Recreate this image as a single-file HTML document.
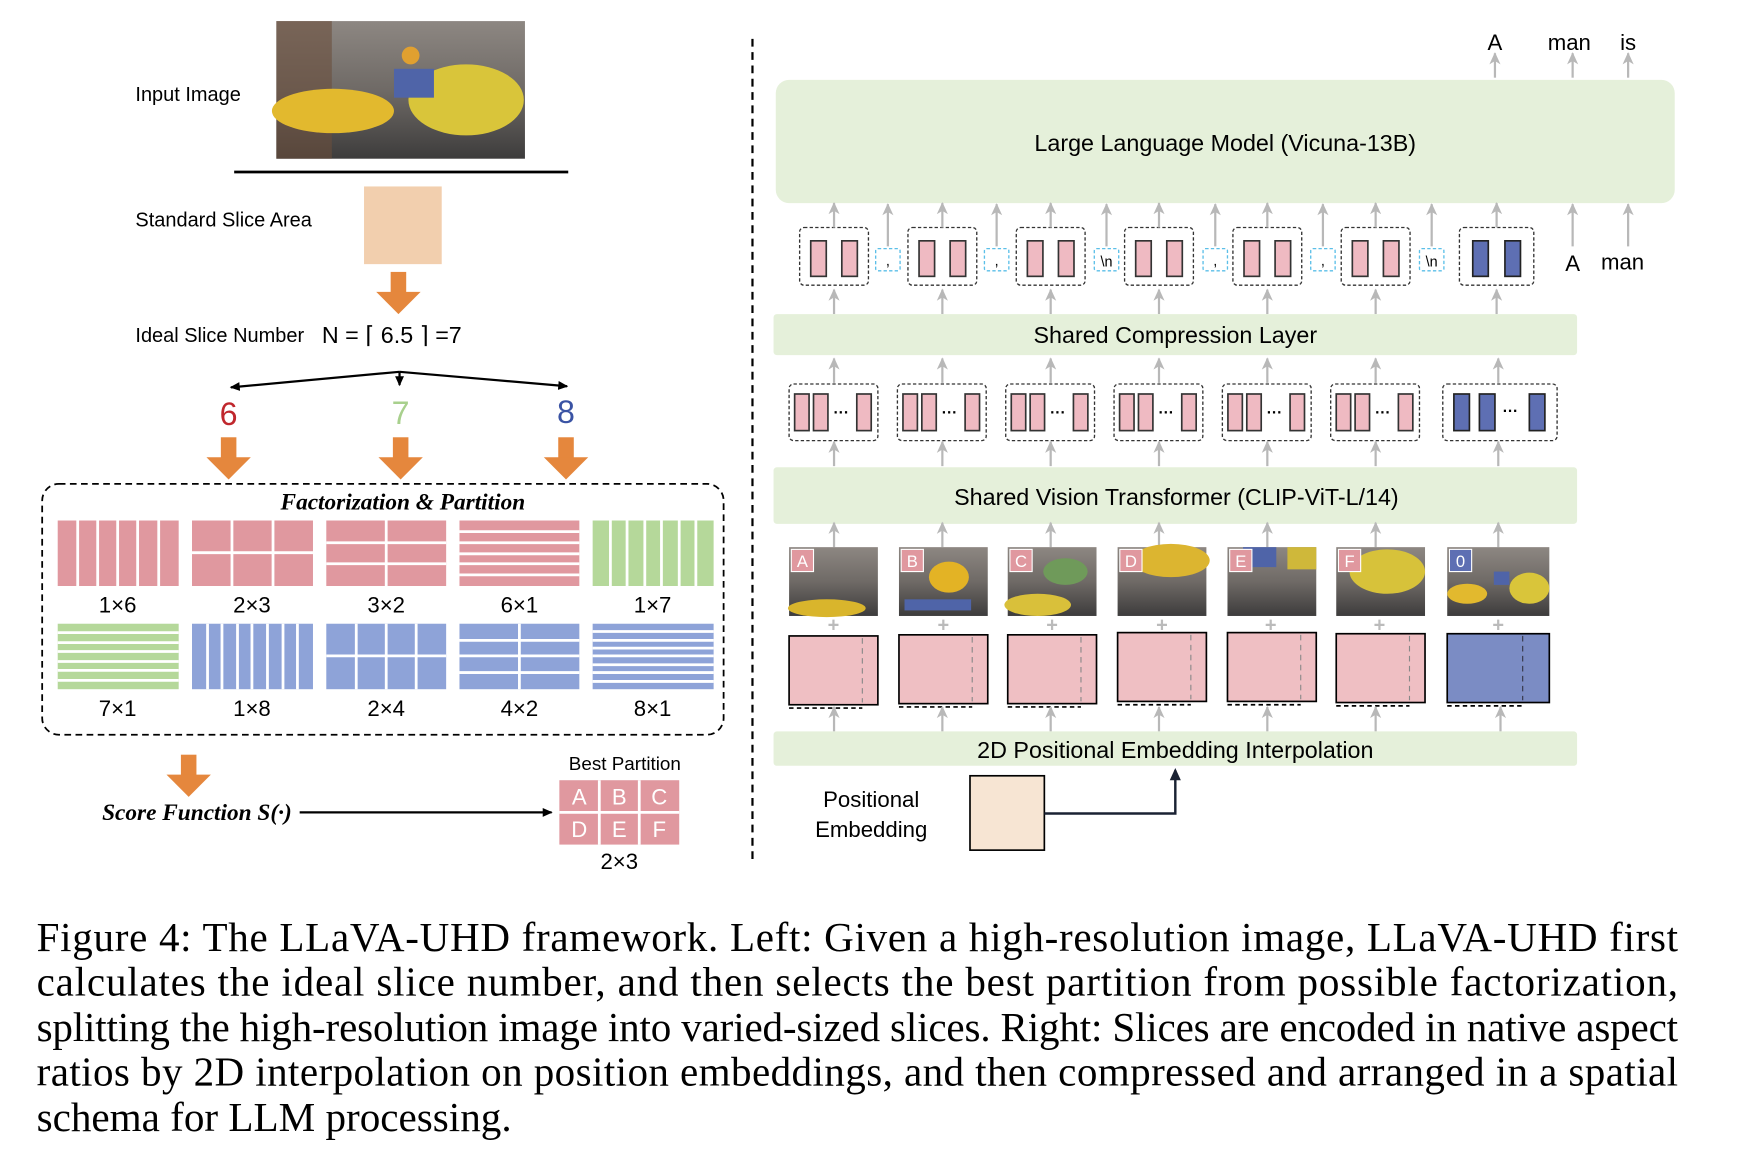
<!DOCTYPE html>
<html><head><meta charset="utf-8"><style>
html,body{margin:0;padding:0;background:#fff;}
svg{display:block}
.s{font-family:"Liberation Sans",sans-serif;}
.r{font-family:"Liberation Serif",serif;}
</style></head><body>
<svg width="1738" height="1162" viewBox="0 0 1566 1047" preserveAspectRatio="none" xmlns="http://www.w3.org/2000/svg">
<defs>
<marker id="ab" markerWidth="10" markerHeight="10" refX="8" refY="5" orient="auto" markerUnits="userSpaceOnUse"><path d="M0,1 L9,5 L0,9 Z" fill="#000"/></marker>
<marker id="ag" markerWidth="12" markerHeight="12" refX="10" refY="6" orient="auto" markerUnits="userSpaceOnUse"><path d="M0,1 L11,6 L0,11 L3,6 Z" fill="#b8b8b8"/></marker>
<linearGradient id="ph" x1="0" y1="0" x2="0" y2="1"><stop offset="0" stop-color="#8d8782"/><stop offset="0.5" stop-color="#6f6a66"/><stop offset="1" stop-color="#3d3c3c"/></linearGradient>
<g id="oa"><rect x="-7" y="0" width="14" height="20" fill="#e5873d"/><path d="M-20,18 L20,18 L0,38 Z" fill="#e5873d"/></g>
<g id="t1"><rect x="0" y="0" width="62" height="52" rx="4" fill="none" stroke="#333" stroke-dasharray="3,2" stroke-width="1.2"/><rect x="10" y="12" width="14" height="32" fill="#efbac2" stroke="#333" stroke-width="1.5"/><rect x="38" y="12" width="14" height="32" fill="#efbac2" stroke="#333" stroke-width="1.5"/></g>
<g id="t2"><rect x="0" y="0" width="80" height="51" rx="4" fill="none" stroke="#333" stroke-dasharray="3,2" stroke-width="1.2"/><rect x="5" y="9" width="13" height="33" fill="#efbac2" stroke="#333" stroke-width="1.5"/><rect x="22" y="9" width="13" height="33" fill="#efbac2" stroke="#333" stroke-width="1.5"/><text x="47" y="30" font-size="14" font-weight="bold" class="s" text-anchor="middle">···</text><rect x="61" y="9" width="13" height="33" fill="#efbac2" stroke="#333" stroke-width="1.5"/></g>
<g id="sep"><rect x="0" y="0" width="22" height="20" rx="2" fill="none" stroke="#5bbfe8" stroke-dasharray="3,2" stroke-width="1.2"/></g>
<g id="up"><line x1="0" y1="0" x2="0" y2="-22" stroke="#b8b8b8" stroke-width="2" marker-end="url(#ag)"/></g>
</defs>

<!-- LEFT -->
<text x="122" y="91" font-size="18" class="s">Input Image</text>
<rect x="249" y="19" width="224" height="124" fill="url(#ph)"/>
<rect x="249" y="19" width="50" height="124" fill="#6a4e3c" opacity="0.6"/>
<ellipse cx="300" cy="100" rx="55" ry="20" fill="#e2b92e"/>
<ellipse cx="420" cy="90" rx="52" ry="32" fill="#d9c53a"/>
<rect x="355" y="62" width="36" height="26" fill="#4f64a8"/>
<circle cx="370" cy="50" r="8" fill="#e0a030"/>
<line x1="211" y1="155" x2="512" y2="155" stroke="#000" stroke-width="2.5"/>
<text x="122" y="204" font-size="18" class="s">Standard Slice Area</text>
<rect x="328" y="168" width="70" height="70" fill="#f2cfae"/>
<use href="#oa" x="359" y="245"/>
<text x="122" y="308" font-size="18" class="s">Ideal Slice Number</text>
<text x="290" y="309" font-size="21" class="s">N = ⌈ 6.5 ⌉ =7</text>
<line x1="360" y1="335" x2="208" y2="349" stroke="#000" stroke-width="2" marker-end="url(#ab)"/>
<line x1="360" y1="335" x2="360" y2="347" stroke="#000" stroke-width="2" marker-end="url(#ab)"/>
<line x1="360" y1="335" x2="511" y2="348" stroke="#000" stroke-width="2" marker-end="url(#ab)"/>
<text x="206" y="383" font-size="29" class="s" fill="#c0272d" text-anchor="middle">6</text>
<text x="361" y="382" font-size="29" class="s" fill="#a8d08d" text-anchor="middle">7</text>
<text x="510" y="381" font-size="29" class="s" fill="#3a53a4" text-anchor="middle">8</text>
<use href="#oa" x="206" y="394"/><use href="#oa" x="361" y="394"/><use href="#oa" x="510" y="394"/>
<rect x="38" y="436" width="614" height="226" rx="15" fill="none" stroke="#000" stroke-width="1.6" stroke-dasharray="6,4"/>
<text x="363" y="459" font-size="21" font-weight="bold" font-style="italic" class="r" text-anchor="middle">Factorization &amp; Partition</text>
<g stroke="#fff" stroke-width="2.5">
<rect x="52" y="469" width="109" height="59" fill="#e0989f" stroke="none"/>
<line x1="70" y1="469" x2="70" y2="528"/><line x1="88" y1="469" x2="88" y2="528"/><line x1="106" y1="469" x2="106" y2="528"/><line x1="124" y1="469" x2="124" y2="528"/><line x1="143" y1="469" x2="143" y2="528"/>
<rect x="173" y="469" width="109" height="59" fill="#e0989f" stroke="none"/>
<line x1="209" y1="469" x2="209" y2="528"/><line x1="246" y1="469" x2="246" y2="528"/><line x1="173" y1="498" x2="282" y2="498"/>
<rect x="294" y="469" width="108" height="59" fill="#e0989f" stroke="none"/>
<line x1="348" y1="469" x2="348" y2="528"/><line x1="294" y1="489" x2="402" y2="489"/><line x1="294" y1="508" x2="402" y2="508"/>
<rect x="414" y="469" width="108" height="59" fill="#e0989f" stroke="none"/>
<line x1="414" y1="479" x2="522" y2="479"/><line x1="414" y1="489" x2="522" y2="489"/><line x1="414" y1="499" x2="522" y2="499"/><line x1="414" y1="508" x2="522" y2="508"/><line x1="414" y1="518" x2="522" y2="518"/>
<rect x="534" y="469" width="109" height="59" fill="#b5d89a" stroke="none"/>
<line x1="550" y1="469" x2="550" y2="528"/><line x1="565" y1="469" x2="565" y2="528"/><line x1="581" y1="469" x2="581" y2="528"/><line x1="596" y1="469" x2="596" y2="528"/><line x1="612" y1="469" x2="612" y2="528"/><line x1="627" y1="469" x2="627" y2="528"/>
<rect x="52" y="562" width="109" height="59" fill="#b5d89a" stroke="none"/>
<line x1="52" y1="570" x2="161" y2="570"/><line x1="52" y1="579" x2="161" y2="579"/><line x1="52" y1="587" x2="161" y2="587"/><line x1="52" y1="596" x2="161" y2="596"/><line x1="52" y1="604" x2="161" y2="604"/><line x1="52" y1="613" x2="161" y2="613"/>
<rect x="173" y="562" width="109" height="59" fill="#8ea3d8" stroke="none"/>
<line x1="187" y1="562" x2="187" y2="621"/><line x1="200" y1="562" x2="200" y2="621"/><line x1="214" y1="562" x2="214" y2="621"/><line x1="227" y1="562" x2="227" y2="621"/><line x1="241" y1="562" x2="241" y2="621"/><line x1="255" y1="562" x2="255" y2="621"/><line x1="268" y1="562" x2="268" y2="621"/>
<rect x="294" y="562" width="108" height="59" fill="#8ea3d8" stroke="none"/>
<line x1="321" y1="562" x2="321" y2="621"/><line x1="348" y1="562" x2="348" y2="621"/><line x1="375" y1="562" x2="375" y2="621"/><line x1="294" y1="591" x2="402" y2="591"/>
<rect x="414" y="562" width="108" height="59" fill="#8ea3d8" stroke="none"/>
<line x1="468" y1="562" x2="468" y2="621"/><line x1="414" y1="577" x2="522" y2="577"/><line x1="414" y1="591" x2="522" y2="591"/><line x1="414" y1="606" x2="522" y2="606"/>
<rect x="534" y="562" width="109" height="59" fill="#8ea3d8" stroke="none"/>
<line x1="534" y1="569" x2="643" y2="569"/><line x1="534" y1="577" x2="643" y2="577"/><line x1="534" y1="584" x2="643" y2="584"/><line x1="534" y1="591" x2="643" y2="591"/><line x1="534" y1="599" x2="643" y2="599"/><line x1="534" y1="606" x2="643" y2="606"/><line x1="534" y1="614" x2="643" y2="614"/>
</g>
<g font-size="20" class="s" text-anchor="middle">
<text x="106" y="552">1×6</text><text x="227" y="552">2×3</text><text x="348" y="552">3×2</text><text x="468" y="552">6×1</text><text x="588" y="552">1×7</text>
<text x="106" y="645">7×1</text><text x="227" y="645">1×8</text><text x="348" y="645">2×4</text><text x="468" y="645">4×2</text><text x="588" y="645">8×1</text>
</g>
<use href="#oa" x="170" y="680"/>
<text x="92" y="739" font-size="21" font-weight="bold" font-style="italic" class="r">Score Function S(·)</text>
<line x1="270" y1="732" x2="497" y2="732" stroke="#000" stroke-width="2" marker-end="url(#ab)"/>
<text x="563" y="694" font-size="17" class="s" text-anchor="middle">Best Partition</text>
<g stroke="#fff" stroke-width="2.5"><rect x="504" y="703" width="108" height="58" fill="#e0989f" stroke="none"/>
<line x1="540" y1="703" x2="540" y2="761"/><line x1="576" y1="703" x2="576" y2="761"/><line x1="504" y1="732" x2="612" y2="732"/></g>
<g font-size="20" class="s" fill="#fff" text-anchor="middle">
<text x="522" y="725">A</text><text x="558" y="725">B</text><text x="594" y="725">C</text>
<text x="522" y="754">D</text><text x="558" y="754">E</text><text x="594" y="754">F</text></g>
<text x="558" y="783" font-size="20" class="s" text-anchor="middle">2×3</text>
<line x1="678" y1="35" x2="678" y2="775" stroke="#000" stroke-width="2" stroke-dasharray="7,5"/>

<!-- RIGHT -->
<g font-size="20" class="s" text-anchor="middle"><text x="1347" y="45">A</text><text x="1414" y="45">man</text><text x="1467" y="45">is</text></g>
<use href="#up" x="1347" y="70"/><use href="#up" x="1417" y="70"/><use href="#up" x="1467" y="70"/>
<rect x="699" y="72" width="810" height="111" rx="12" fill="#e5f0da"/>
<text x="1104" y="136" font-size="21" class="s" text-anchor="middle">Large Language Model (Vicuna-13B)</text>

<g>
<use href="#t1" x="720.5" y="205"/><use href="#t1" x="818.1" y="205"/><use href="#t1" x="915.7" y="205"/><use href="#t1" x="1013.3" y="205"/><use href="#t1" x="1110.9" y="205"/><use href="#t1" x="1208.5" y="205"/>
<rect x="1315" y="205" width="67" height="52" rx="4" fill="none" stroke="#333" stroke-dasharray="3,2" stroke-width="1.2"/>
<rect x="1327" y="217" width="14" height="32" fill="#5e6fb3" stroke="#222" stroke-width="1.5"/><rect x="1356" y="217" width="14" height="32" fill="#5e6fb3" stroke="#222" stroke-width="1.5"/>
<use href="#sep" x="789" y="224"/><use href="#sep" x="887" y="224"/><use href="#sep" x="986" y="224"/><use href="#sep" x="1084" y="224"/><use href="#sep" x="1181" y="224"/><use href="#sep" x="1279" y="224"/>
<g font-size="13" class="s" text-anchor="middle"><text x="800" y="239">,</text><text x="898" y="239">,</text><text x="997" y="240">\n</text><text x="1095" y="239">,</text><text x="1192" y="239">,</text><text x="1290" y="240">\n</text></g>
</g>
<g>
<use href="#up" x="751.5" y="205"/><use href="#up" x="849.1" y="205"/><use href="#up" x="946.7" y="205"/><use href="#up" x="1044.3" y="205"/><use href="#up" x="1141.9" y="205"/><use href="#up" x="1239.5" y="205"/><use href="#up" x="1348.5" y="205"/>
<line x1="800" y1="222" x2="800" y2="184" stroke="#b8b8b8" stroke-width="2" marker-end="url(#ag)"/>
<line x1="898" y1="222" x2="898" y2="184" stroke="#b8b8b8" stroke-width="2" marker-end="url(#ag)"/>
<line x1="997" y1="222" x2="997" y2="184" stroke="#b8b8b8" stroke-width="2" marker-end="url(#ag)"/>
<line x1="1095" y1="222" x2="1095" y2="184" stroke="#b8b8b8" stroke-width="2" marker-end="url(#ag)"/>
<line x1="1192" y1="222" x2="1192" y2="184" stroke="#b8b8b8" stroke-width="2" marker-end="url(#ag)"/>
<line x1="1290" y1="222" x2="1290" y2="184" stroke="#b8b8b8" stroke-width="2" marker-end="url(#ag)"/>
<line x1="1417" y1="222" x2="1417" y2="184" stroke="#b8b8b8" stroke-width="2" marker-end="url(#ag)"/>
<line x1="1467" y1="222" x2="1467" y2="184" stroke="#b8b8b8" stroke-width="2" marker-end="url(#ag)"/>
</g>
<g font-size="20" class="s" text-anchor="middle"><text x="1417" y="244">A</text><text x="1462" y="243">man</text></g>
<g>
<use href="#up" x="751.5" y="283"/><use href="#up" x="849.1" y="283"/><use href="#up" x="946.7" y="283"/><use href="#up" x="1044.3" y="283"/><use href="#up" x="1141.9" y="283"/><use href="#up" x="1239.5" y="283"/><use href="#up" x="1348.5" y="283"/>
</g>
<rect x="697" y="283" width="724" height="37" rx="3" fill="#e5f0da"/>
<text x="1059" y="309" font-size="21" class="s" text-anchor="middle">Shared Compression Layer</text>
<g>
<use href="#up" x="751.5" y="345"/><use href="#up" x="849.1" y="345"/><use href="#up" x="946.7" y="345"/><use href="#up" x="1044.3" y="345"/><use href="#up" x="1141.9" y="345"/><use href="#up" x="1239.5" y="345"/><use href="#up" x="1350" y="345"/>
</g>
<use href="#t2" x="711" y="346"/><use href="#t2" x="808.6" y="346"/><use href="#t2" x="906.2" y="346"/><use href="#t2" x="1003.8" y="346"/><use href="#t2" x="1101.4" y="346"/><use href="#t2" x="1199" y="346"/>
<rect x="1300" y="346" width="103" height="51" rx="4" fill="none" stroke="#333" stroke-dasharray="3,2" stroke-width="1.2"/>
<rect x="1310" y="355" width="14" height="33" fill="#5e6fb3" stroke="#222" stroke-width="1.5"/><rect x="1333" y="355" width="14" height="33" fill="#5e6fb3" stroke="#222" stroke-width="1.5"/>
<text x="1361" y="375" font-size="14" font-weight="bold" class="s" text-anchor="middle">···</text>
<rect x="1378" y="355" width="14" height="33" fill="#5e6fb3" stroke="#222" stroke-width="1.5"/>
<g>
<use href="#up" x="751.5" y="420"/><use href="#up" x="849.1" y="420"/><use href="#up" x="946.7" y="420"/><use href="#up" x="1044.3" y="420"/><use href="#up" x="1141.9" y="420"/><use href="#up" x="1239.5" y="420"/><use href="#up" x="1350" y="420"/>
</g>
<rect x="697" y="421" width="724" height="51" rx="3" fill="#e5f0da"/>
<text x="1060" y="455" font-size="21" class="s" text-anchor="middle">Shared Vision Transformer (CLIP-ViT-L/14)</text>
<g>
<use href="#up" x="751.5" y="493"/><use href="#up" x="849.1" y="493"/><use href="#up" x="946.7" y="493"/><use href="#up" x="1044.3" y="493"/><use href="#up" x="1141.9" y="493"/><use href="#up" x="1239.5" y="493"/><use href="#up" x="1350" y="493"/>
</g>
<!-- photos -->
<g>
<rect x="711" y="493" width="80" height="62" fill="url(#ph)"/><ellipse cx="745" cy="548" rx="35" ry="8" fill="#d9b52c"/>
<rect x="810" y="493" width="80" height="62" fill="url(#ph)"/><ellipse cx="855" cy="520" rx="18" ry="14" fill="#e3b325"/><rect x="815" y="540" width="60" height="10" fill="#4f64a8"/>
<rect x="908" y="493" width="80" height="62" fill="url(#ph)"/><ellipse cx="960" cy="515" rx="20" ry="12" fill="#6f9a5a"/><ellipse cx="935" cy="545" rx="30" ry="10" fill="#d9c03a"/>
<rect x="1007" y="493" width="80" height="62" fill="url(#ph)"/><ellipse cx="1055" cy="505" rx="35" ry="15" fill="#dcb530"/>
<rect x="1106" y="493" width="80" height="62" fill="url(#ph)"/><rect x="1120" y="493" width="30" height="18" fill="#4f64a8"/><rect x="1160" y="493" width="26" height="20" fill="#cfb83a"/>
<rect x="1204" y="493" width="80" height="62" fill="url(#ph)"/><ellipse cx="1250" cy="515" rx="34" ry="20" fill="#d7c23a"/>
<rect x="1304" y="493" width="92" height="62" fill="url(#ph)"/><ellipse cx="1322" cy="535" rx="18" ry="9" fill="#e2b92e"/><ellipse cx="1378" cy="530" rx="18" ry="14" fill="#d9c53a"/><rect x="1346" y="515" width="14" height="12" fill="#4f64a8"/>
</g>
<g font-size="15" class="s" fill="#fff" text-anchor="middle">
<rect x="713" y="495" width="20" height="20" fill="#e0989f" stroke="#fff"/><text x="723" y="511">A</text>
<rect x="812" y="495" width="20" height="20" fill="#e0989f" stroke="#fff"/><text x="822" y="511">B</text>
<rect x="910" y="495" width="20" height="20" fill="#e0989f" stroke="#fff"/><text x="920" y="511">C</text>
<rect x="1009" y="495" width="20" height="20" fill="#e0989f" stroke="#fff"/><text x="1019" y="511">D</text>
<rect x="1108" y="495" width="20" height="20" fill="#e0989f" stroke="#fff"/><text x="1118" y="511">E</text>
<rect x="1206" y="495" width="20" height="20" fill="#e0989f" stroke="#fff"/><text x="1216" y="511">F</text>
<rect x="1306" y="495" width="20" height="20" fill="#5e6fb3" stroke="#fff"/><text x="1316" y="511">0</text>
</g>
<g font-size="18" font-weight="bold" class="s" fill="#bbb" text-anchor="middle">
<text x="751" y="569">+</text><text x="850" y="569">+</text><text x="948" y="569">+</text><text x="1047" y="569">+</text><text x="1145" y="569">+</text><text x="1243" y="569">+</text><text x="1350" y="569">+</text>
</g>
<!-- pos embed rects -->
<g stroke-width="1.5">
<rect x="711" y="573" width="80" height="62" fill="#efbfc3" stroke="#000"/><line x1="711" y1="638" x2="777" y2="638" stroke="#000" stroke-dasharray="4,3"/><line x1="777" y1="575" x2="777" y2="633" stroke="#888" stroke-dasharray="5,4" stroke-width="1"/>
<rect x="810" y="572" width="80" height="62" fill="#efbfc3" stroke="#000"/><line x1="810" y1="637" x2="876" y2="637" stroke="#000" stroke-dasharray="4,3"/><line x1="876" y1="574" x2="876" y2="632" stroke="#888" stroke-dasharray="5,4" stroke-width="1"/>
<rect x="908" y="572" width="80" height="62" fill="#efbfc3" stroke="#000"/><line x1="908" y1="637" x2="974" y2="637" stroke="#000" stroke-dasharray="4,3"/><line x1="974" y1="574" x2="974" y2="632" stroke="#888" stroke-dasharray="5,4" stroke-width="1"/>
<rect x="1007" y="570" width="80" height="62" fill="#efbfc3" stroke="#000"/><line x1="1007" y1="635" x2="1073" y2="635" stroke="#000" stroke-dasharray="4,3"/><line x1="1073" y1="572" x2="1073" y2="630" stroke="#888" stroke-dasharray="5,4" stroke-width="1"/>
<rect x="1106" y="570" width="80" height="62" fill="#efbfc3" stroke="#000"/><line x1="1106" y1="635" x2="1172" y2="635" stroke="#000" stroke-dasharray="4,3"/><line x1="1172" y1="572" x2="1172" y2="630" stroke="#888" stroke-dasharray="5,4" stroke-width="1"/>
<rect x="1204" y="571" width="80" height="62" fill="#efbfc3" stroke="#000"/><line x1="1204" y1="636" x2="1270" y2="636" stroke="#000" stroke-dasharray="4,3"/><line x1="1270" y1="573" x2="1270" y2="631" stroke="#888" stroke-dasharray="5,4" stroke-width="1"/>
<rect x="1304" y="571" width="92" height="62" fill="#7b8cc4" stroke="#000"/><line x1="1304" y1="636" x2="1372" y2="636" stroke="#000" stroke-dasharray="4,3"/><line x1="1372" y1="573" x2="1372" y2="631" stroke="#334" stroke-dasharray="5,4" stroke-width="1"/>
</g>
<g>
<use href="#up" x="751.5" y="659"/><use href="#up" x="849.1" y="659"/><use href="#up" x="946.7" y="659"/><use href="#up" x="1044.3" y="659"/><use href="#up" x="1141.9" y="659"/><use href="#up" x="1239.5" y="659"/><use href="#up" x="1352" y="659"/>
</g>
<rect x="697" y="659" width="724" height="31" rx="3" fill="#e5f0da"/>
<text x="1059" y="683" font-size="21" class="s" text-anchor="middle">2D Positional Embedding Interpolation</text>
<g font-size="20" class="s" text-anchor="middle"><text x="785" y="727">Positional</text><text x="785" y="754">Embedding</text></g>
<rect x="874" y="699" width="67" height="67" fill="#f7e5d3" stroke="#000" stroke-width="1.5"/>
<path d="M941,733 L1059,733 L1059,694" fill="none" stroke="#1a2233" stroke-width="2.2"/>
<path d="M1054,703 L1059,692 L1064,703 Z" fill="#1a2233"/>

<!-- caption -->
<g font-size="37" class="r" fill="#000">
<text x="33" y="857" textLength="1479" lengthAdjust="spacing">Figure 4: The LLaVA-UHD framework. Left: Given a high-resolution image, LLaVA-UHD first</text>
<text x="33" y="897" textLength="1479" lengthAdjust="spacing">calculates the ideal slice number, and then selects the best partition from possible factorization,</text>
<text x="33" y="938" textLength="1479" lengthAdjust="spacing">splitting the high-resolution image into varied-sized slices. Right: Slices are encoded in native aspect</text>
<text x="33" y="978" textLength="1479" lengthAdjust="spacing">ratios by 2D interpolation on position embeddings, and then compressed and arranged in a spatial</text>
<text x="33" y="1019" textLength="428" lengthAdjust="spacingAndGlyphs">schema for LLM processing.</text>
</g>
</svg>
</body></html>
